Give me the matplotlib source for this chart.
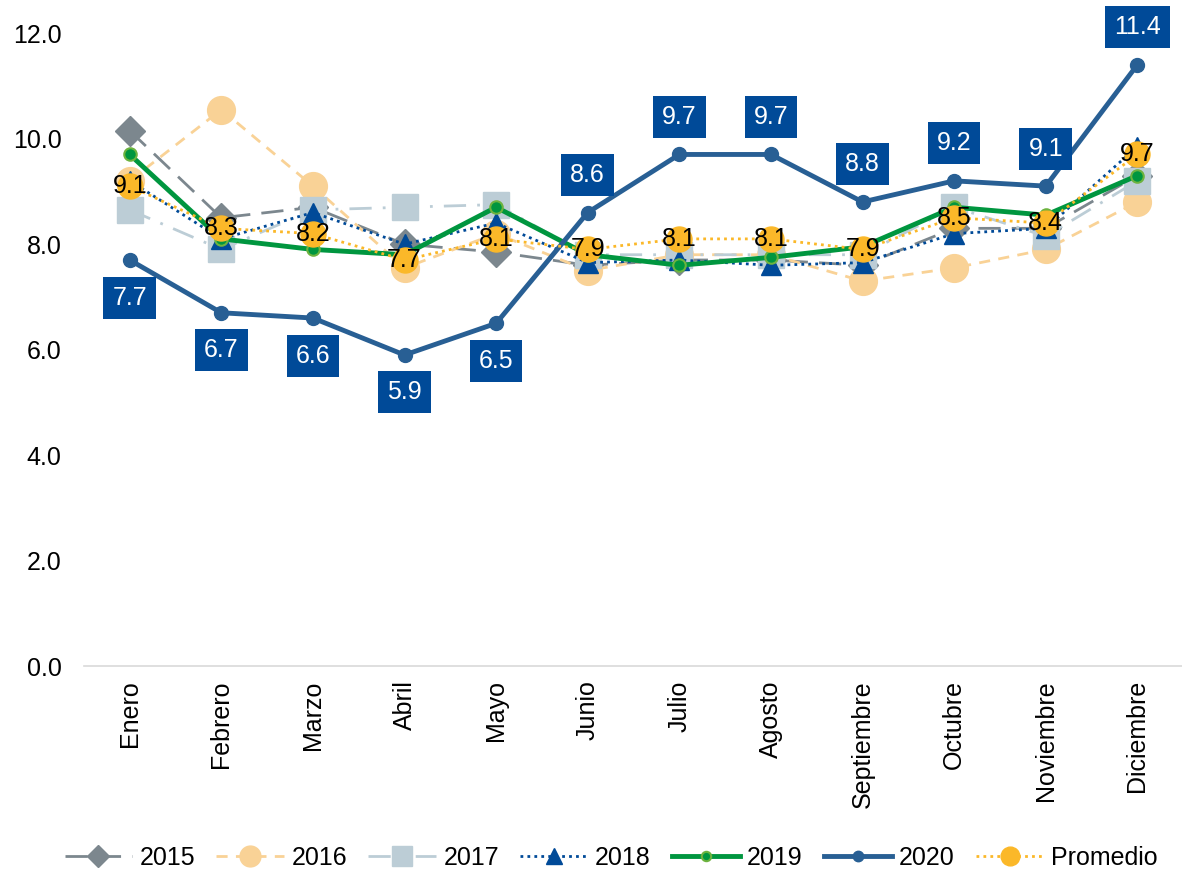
import matplotlib
matplotlib.use("Agg")
import matplotlib.pyplot as plt
import numpy as np

plt.rcParams['font.family'] = ['Liberation Sans', 'DejaVu Sans']

meses = ['Enero', 'Febrero', 'Marzo', 'Abril', 'Mayo', 'Junio', 'Julio',
         'Agosto', 'Septiembre', 'Octubre', 'Noviembre', 'Diciembre']

y2015 = [10.15, 8.5, 8.7, 8.0, 7.85, 7.6, 7.7, 7.7, 7.6, 8.3, 8.3, 9.3]
y2016 = [9.2, 10.55, 9.1, 7.55, 8.2, 7.5, 7.8, 7.8, 7.3, 7.55, 7.9, 8.8]
y2017 = [8.65, 7.9, 8.65, 8.7, 8.75, 7.8, 7.8, 7.8, 7.8, 8.7, 8.15, 9.2]
y2018 = [9.2, 8.1, 8.6, 8.0, 8.4, 7.65, 7.7, 7.6, 7.65, 8.2, 8.3, 9.85]
y2019 = [9.7, 8.1, 7.9, 7.8, 8.7, 7.8, 7.6, 7.75, 7.95, 8.7, 8.55, 9.3]
y2020 = [7.7, 6.7, 6.6, 5.9, 6.5, 8.6, 9.7, 9.7, 8.8, 9.2, 9.1, 11.4]
promedio = [9.1, 8.3, 8.2, 7.7, 8.1, 7.9, 8.1, 8.1, 7.9, 8.5, 8.4, 9.7]

x = np.arange(len(meses))
fs = 18

fig = plt.figure(figsize=(11.82, 8.71), dpi=100)
ax = fig.add_axes([0.071, 0.235, 0.93, 0.727])

ax.plot(x, y2015, color='#7C878E', lw=2, dashes=(8, 4), marker='D', ms=15, label='2015')
ax.plot(x, y2016, color='#F9D296', lw=2, dashes=(4, 3), marker='o', ms=20, label='2016')
ax.plot(x, y2017, color='#BCCDD6', lw=2, dashes=(8, 4, 1, 4), marker='s', ms=19, label='2017')
ax.plot(x, y2018, color='#004A98', lw=2, linestyle=(0, (1, 1.5)), marker='^', ms=15, label='2018')
ax.plot(x, y2019, color='#00963F', lw=3.5, marker='o', ms=9, mfc='#00963F', mec='#6DB33F', mew=1.5, label='2019')
ax.plot(x, y2020, color='#285F94', lw=3.5, marker='o', ms=10, label='2020')
ax.plot(x, promedio, color='#FBB829', lw=2, linestyle=(0, (1, 1.5)), marker='o', ms=18, label='Promedio')

# etiquetas 2020
for i, v in enumerate(y2020):
    off = -27 if i < 5 else 27
    ax.annotate(f'{v:.1f}', (i, v), xytext=(0, off), textcoords='offset points',
                ha='center', va='center', color='white', fontsize=fs,
                bbox=dict(boxstyle='square,pad=0.36', fc='#004A98', ec='none'))

# etiquetas promedio
for i, v in enumerate(promedio):
    ax.annotate(f'{v:.1f}', (i, v), ha='center', va='center', color='black', fontsize=fs)

ax.set_xlim(-0.5, 11.5)
ax.set_ylim(0, 12)
ax.set_yticks(np.arange(0, 13, 2))
ax.set_yticklabels([f'{t:.1f}' for t in np.arange(0, 13, 2)], fontsize=fs)
ax.set_xticks(x)
ax.set_xticklabels(meses, rotation=90, fontsize=fs)
ax.tick_params(axis='x', length=0, pad=10)
ax.tick_params(axis='y', length=0, pad=16)

for s in ['top', 'right', 'left']:
    ax.spines[s].set_visible(False)
ax.spines['bottom'].set_color('#D9D9D9')
ax.spines['bottom'].set_linewidth(1.2)

fig.legend(loc='center', bbox_to_anchor=(0.517, 0.015), ncol=7, frameon=False,
           fontsize=fs, handlelength=2.7, columnspacing=0.85, handletextpad=0.3,
           markerscale=0.75)

fig.savefig('out.png', dpi=100)
